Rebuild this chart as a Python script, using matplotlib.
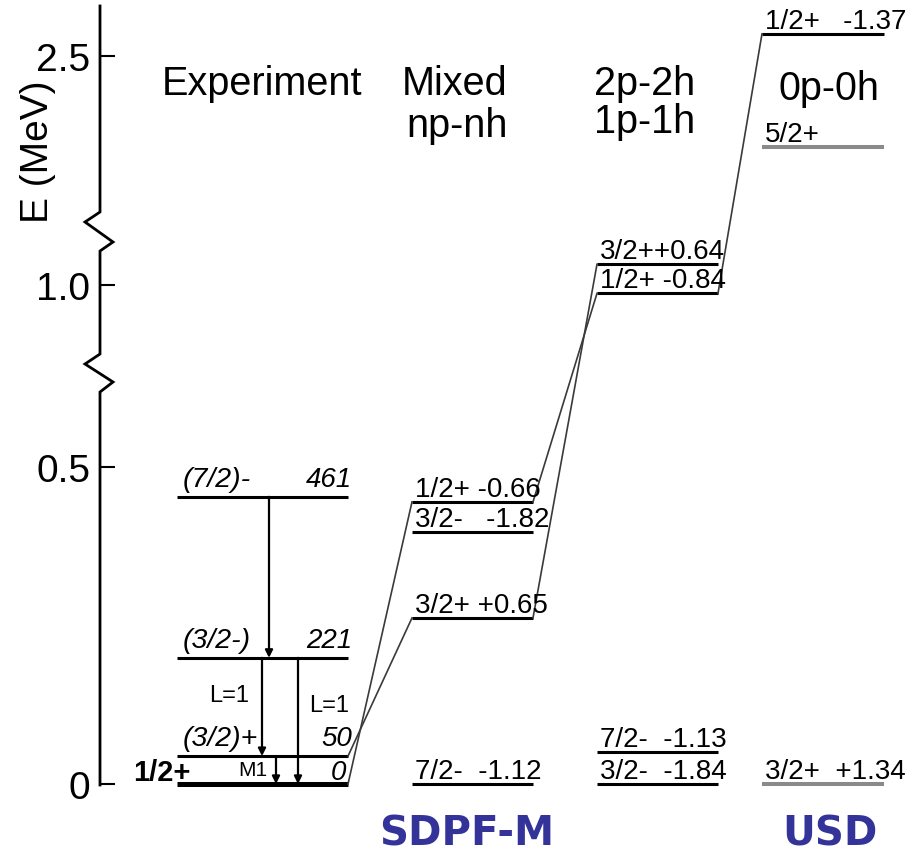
import matplotlib.pyplot as plt
import numpy as np

plt.rcParams['font.family'] = ['Liberation Sans', 'DejaVu Sans']

# level energies as drawn on the (broken) axis, in MeV, with their labels
exp_E = [0.0, 0.044, 0.199, 0.453]
exp_spin = ["1/2+", "(3/2)+", "(3/2-)", "(7/2)-"]
exp_kev = ["0", "50", "221", "461"]

mixed_E = [0.0, 0.262, 0.397, 0.445]
mixed_lbl = ["7/2-  -1.12", "3/2+ +0.65", "3/2-   -1.82", "1/2+ -0.66"]

p2h_E = [0.0, 0.050, 0.987, 1.033]
p2h_lbl = ["3/2-  -1.84", "7/2-  -1.13", "1/2+ -0.84", "3/2++0.64"]

p0h_E = [0.0, 2.356, 2.535]
p0h_lbl = ["3/2+  +1.34", "5/2+", "1/2+   -1.37"]
p0h_grey = [True, True, False]

# gamma transitions (from level, to level) in the experiment column
gammas = [(3, 2), (2, 1), (2, 0), (1, 0)]
gamma_lbl = ["", "L=1", "L=1", "M1"]

# links between columns: (col, level, col, level)
links = [("exp", 0, "mixed", 3), ("exp", 1, "mixed", 1),
         ("mixed", 3, "p2h", 2), ("mixed", 1, "p2h", 3),
         ("p2h", 2, "p0h", 2)]

yticks = [0, 0.5, 1.0, 2.5]
yticklabels = ["0", "0.5", "1.0", "2.5"]

# piecewise axis with two breaks
E_knots = [-0.3, 0.618, 0.891, 1.054, 2.254, 2.9]
u_knots = [-190.2, 391.8, 430.0, 533.0, 572.0, 981.6]


def fwd(e):
    return np.interp(e, E_knots, u_knots)


def inv(u):
    return np.interp(u, u_knots, E_knots)


def ey(ypix):
    # image pixel row -> energy on the axis
    return float(inv(785 - ypix))


cols = {"exp": (177, 348), "mixed": (412, 533), "p2h": (597, 718), "p0h": (762, 884)}
energies = {"exp": exp_E, "mixed": mixed_E, "p2h": p2h_E, "p0h": p0h_E}

fig = plt.figure(figsize=(9.18, 8.54), dpi=100)
ax = fig.add_axes([0, 0, 1, 1])
ax.set_yscale('function', functions=(fwd, inv))
ax.set_xlim(0, 918)
ax.set_ylim(ey(854), ey(0))

for s in ax.spines.values():
    s.set_visible(False)
ax.spines['left'].set_position(('data', 100))
ax.set_xticks([])
ax.set_yticks(yticks)
ax.set_yticklabels(yticklabels)
ax.tick_params(axis='y', direction='in', length=10.8, width=1.5, pad=7, labelsize=28)

# axis line with the two zigzag breaks
sx = [100, 100, 85, 113, 100, 100, 85, 113, 100, 100]
sy = [7, 213, 223, 243, 252, 355, 365, 383, 393, 786]
ax.plot(sx, [ey(v) for v in sy], color='black', lw=2, solid_joinstyle='miter')

ax.text(38, ey(152), "E (MeV)", rotation=90, ha='center', va='center', fontsize=28)

# experiment
x0, x1 = cols["exp"]
for i, (e, sp, kev) in enumerate(zip(exp_E, exp_spin, exp_kev)):
    ax.hlines(e, x0, x1, color='black', lw=3.6 if i == 0 else 2.2)
    if i == 0:
        ax.annotate(sp, (133, e), xytext=(0, 3), textcoords='offset points',
                    fontsize=21, fontweight='bold', va='baseline')
        ax.annotate(kev, (x1 - 2, e), xytext=(0, 3.5), textcoords='offset points',
                    fontsize=20, style='italic', va='baseline', ha='right')
    else:
        ax.annotate(sp, (x0 + 6, e), xytext=(0, 8), textcoords='offset points',
                    fontsize=20.5, style='italic', va='baseline')
        ax.annotate(kev, (x1 + 4, e), xytext=(0, 8), textcoords='offset points',
                    fontsize=20, style='italic', va='baseline', ha='right')

gx = [269, 262, 298, 276]
glab_pos = [None, (229, 696), (329, 706), (253, 771)]
for (a, b), x, lab, pos in zip(gammas, gx, gamma_lbl, glab_pos):
    ax.annotate('', xy=(x, exp_E[b]), xytext=(x, exp_E[a]),
                arrowprops=dict(arrowstyle='-|>', lw=1.6, color='black',
                                mutation_scale=11, shrinkA=0, shrinkB=0))
    if lab:
        ax.text(pos[0], ey(pos[1]), lab, ha='center', va='center',
                fontsize=15 if lab == "M1" else 17)


def theory(col, es, labels, greys=None):
    a, b = cols[col]
    for k, (e, t) in enumerate(zip(es, labels)):
        grey = greys[k] if greys else False
        ax.hlines(e, a, b, color='#8a8a8a' if grey else 'black', lw=2.9 if grey else 2.2)
        ax.annotate(t, (a + 3, e), xytext=(0, 4.5), textcoords='offset points',
                    fontsize=20, va='baseline')


theory("mixed", mixed_E, mixed_lbl)
theory("p2h", p2h_E, p2h_lbl)
theory("p0h", p0h_E, p0h_lbl, p0h_grey)

for ca, la, cb, lb in links:
    ax.plot([cols[ca][1], cols[cb][0]], [energies[ca][la], energies[cb][lb]],
            color='#3a3a3a', lw=1.2)

# column headers
heads = [("Experiment", 262, 95), ("Mixed", 455, 95), ("np-nh", 457, 137),
         ("2p-2h", 645, 95), ("1p-1h", 645, 133), ("0p-0h", 829, 100)]
for t, x, y in heads:
    ax.text(x, ey(y), t, ha='center', va='baseline', fontsize=28.5)

for t, x in [("SDPF-M", 467), ("USD", 830)]:
    ax.text(x, ey(846), t, ha='center', va='baseline', fontsize=29,
            fontweight='bold', color='#333399', family='DejaVu Sans')

fig.savefig("out.png", dpi=100)
